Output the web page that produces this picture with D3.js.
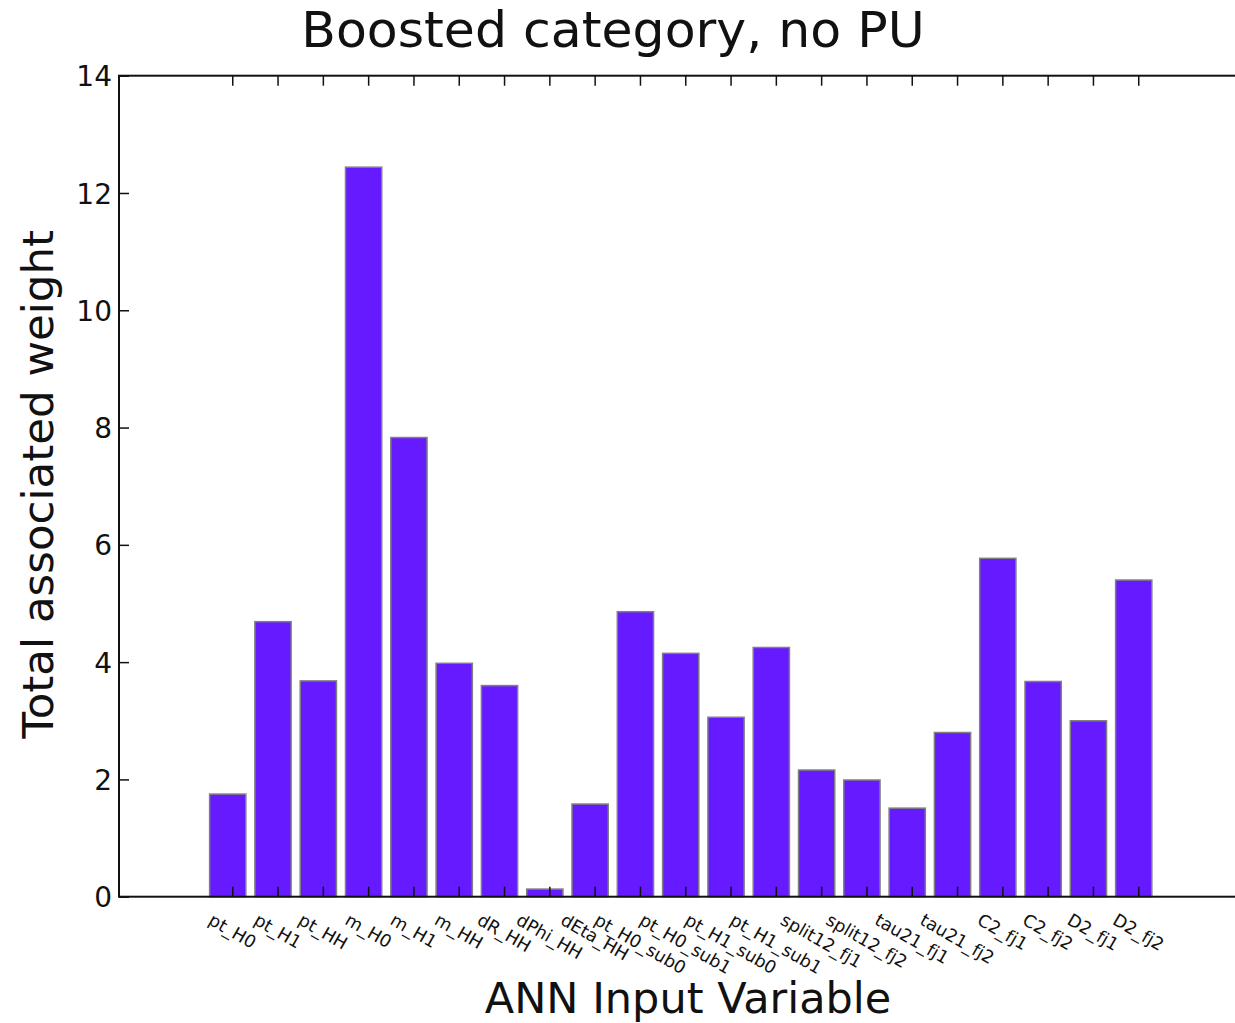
<!DOCTYPE html>
<html>
<head>
<meta charset="utf-8">
<script src="https://cdn.jsdelivr.net/npm/d3@7"></script>
<style>
  body { margin: 0; background: #fff; }
  svg { display: block; font-family: "DejaVu Sans", sans-serif; }
</style>
</head>
<body>
<div id="chart"></div>
<script>
const variables = ["pt_H0", "pt_H1", "pt_HH", "m_H0", "m_H1", "m_HH", "dR_HH", "dPhi_HH", "dEta_HH",
  "pt_H0_sub0", "pt_H0_sub1", "pt_H1_sub0", "pt_H1_sub1", "split12_fj1", "split12_fj2",
  "tau21_fj1", "tau21_fj2", "C2_fj1", "C2_fj2", "D2_fj1", "D2_fj2"];
const weights = [1.75, 4.69, 3.68, 12.44, 7.83, 3.98, 3.60, 0.13, 1.58,
  4.86, 4.15, 3.06, 4.25, 2.16, 1.99, 1.51, 2.80, 5.77, 3.67, 3.00, 5.40];
const yTicks = [0, 2, 4, 6, 8, 10, 12, 14];

const w = 1235, h = 1023;
const plotLeft = 119, plotRight = 1251.5, plotTop = 75.7, plotBottom = 896.7;

const svg = d3.select("#chart").append("svg")
  .attr("width", w)
  .attr("height", h);

const x = d3.scaleLinear().domain([-2, 23]).range([plotLeft, plotRight]);
const y = d3.scaleLinear().domain([0, 14]).range([plotBottom, plotTop]);

// bars (left edge at i, width 0.8 like old matplotlib)
svg.selectAll("rect.bar")
  .data(weights)
  .join("rect")
    .attr("class", "bar")
    .attr("x", (d, i) => x(i))
    .attr("y", d => y(d))
    .attr("width", x(0.8) - x(0))
    .attr("height", d => y(0) - y(d))
    .attr("fill", "#661aff")
    .attr("stroke", "#808080")
    .attr("stroke-width", 1.5);

// ticks sit at i + 0.5
const tickPos = variables.map((v, i) => i + 0.5);

const xBottom = d3.axisBottom(x).tickValues(tickPos).tickSize(-10).tickFormat("");
const xTop = d3.axisTop(x).tickValues(tickPos).tickSize(-10).tickFormat("");
const yLeft = d3.axisLeft(y).tickValues(yTicks).tickSize(-10).tickPadding(7);

const styleAxis = g => {
  g.select(".domain").remove();
  g.selectAll(".tick line").attr("stroke", "#111").attr("stroke-width", 1.5);
};

svg.append("g").attr("transform", "translate(0," + plotBottom + ")").call(xBottom).call(styleAxis);
svg.append("g").attr("transform", "translate(0," + plotTop + ")").call(xTop).call(styleAxis);
svg.append("g").attr("transform", "translate(" + plotLeft + ",0)").call(yLeft).call(styleAxis)
  .call(g => g.selectAll(".tick text")
    .attr("x", -7)
    .attr("dy", "0.36em")
    .style("font-size", "28px")
    .style("font-family", "DejaVu Sans")
    .attr("fill", "#111"));

// frame
svg.append("rect")
  .attr("x", plotLeft).attr("y", plotTop)
  .attr("width", plotRight - plotLeft).attr("height", plotBottom - plotTop)
  .attr("fill", "none")
  .attr("stroke", "#111")
  .attr("stroke-width", 2);

// rotated x tick labels, top of rotated box hanging under the axis
const angle = 30, rad = angle * Math.PI / 180;
const labelSize = 17.5, labelTop = 910;
const labels = svg.append("g").selectAll("text.xlab")
  .data(variables)
  .join("text")
    .attr("class", "xlab")
    .text(d => d)
    .attr("text-anchor", "middle")
    .attr("dy", "0.32em")
    .style("font-size", labelSize + "px")
    .attr("fill", "#111");

labels.each(function(d, i) {
  const tw = this.getComputedTextLength();
  const th = labelSize * 1.15;
  const boxH = tw * Math.sin(rad) + th * Math.cos(rad);
  const cy = labelTop + boxH / 2;
  d3.select(this).attr("transform", "translate(" + x(i + 0.5) + "," + cy + ") rotate(" + angle + ")");
});

// titles
svg.append("text")
  .attr("x", 613).attr("y", 47)
  .attr("text-anchor", "middle")
  .style("font-size", "50.5px")
  .attr("fill", "#111")
  .text("Boosted category, no PU");

svg.append("text")
  .attr("x", 688).attr("y", 1013)
  .attr("text-anchor", "middle")
  .style("font-size", "43px")
  .attr("fill", "#111")
  .text("ANN Input Variable");

svg.append("text")
  .attr("transform", "translate(53," + ((plotTop + plotBottom) / 2 - 2) + ") rotate(-90)")
  .attr("text-anchor", "middle")
  .style("font-size", "43.5px")
  .attr("fill", "#111")
  .text("Total associated weight");
</script>
</body>
</html>
